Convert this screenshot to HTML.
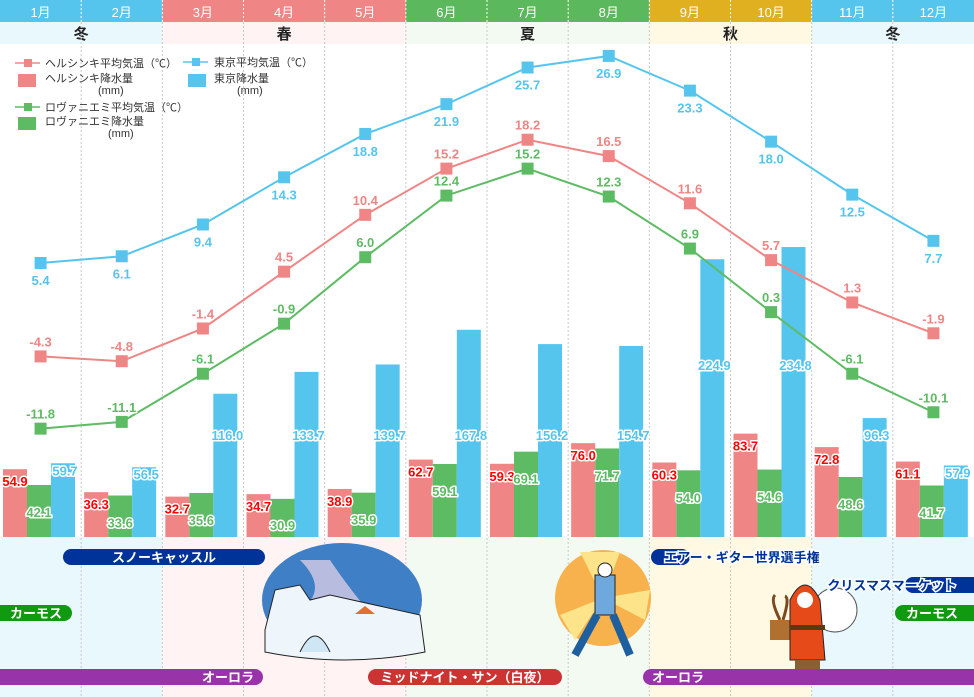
<!DOCTYPE html>
<html><head><meta charset="utf-8">
<style>
body{margin:0;background:#fff;}
svg{display:block;font-family:"Liberation Sans","Noto Sans CJK JP",sans-serif;}
.lbl{font-weight:bold;font-size:13px;paint-order:stroke;stroke:#fff;stroke-width:3px;stroke-linejoin:round;}
.pill{font-weight:bold;font-size:13px;fill:#fff;}
.leg{font-size:11px;fill:#333;}
</style></head><body>
<svg id="chart" width="974" height="697" viewBox="0 0 974 697">
<g id="bg"></g><g id="grid"></g><g id="bars"></g><g id="lines"></g><g id="labels"></g>
<g id="legend">
  <line x1="15" y1="63" x2="40" y2="63" stroke="#f08585" stroke-width="1.5"/><rect x="24" y="59" width="8" height="8" fill="#f08585"/>
  <text class="leg" x="45" y="67">ヘルシンキ平均気温（℃）</text>
  <rect x="18" y="74" width="18" height="13" fill="#f08585"/>
  <text class="leg" x="45" y="82">ヘルシンキ降水量</text><text class="leg" x="98" y="94">(mm)</text>
  <line x1="183" y1="62" x2="208" y2="62" stroke="#56c5ee" stroke-width="1.5"/><rect x="192" y="58" width="8" height="8" fill="#56c5ee"/>
  <text class="leg" x="214" y="66">東京平均気温（℃）</text>
  <rect x="188" y="74" width="18" height="13" fill="#56c5ee"/>
  <text class="leg" x="214" y="82">東京降水量</text><text class="leg" x="237" y="94">(mm)</text>
  <line x1="15" y1="107" x2="40" y2="107" stroke="#5dbb63" stroke-width="1.5"/><rect x="24" y="103" width="8" height="8" fill="#5dbb63"/>
  <text class="leg" x="45" y="111">ロヴァニエミ平均気温（℃）</text>
  <rect x="18" y="117" width="18" height="13" fill="#5dbb63"/>
  <text class="leg" x="45" y="125">ロヴァニエミ降水量</text><text class="leg" x="108" y="137">(mm)</text>
</g>
<g id="events"></g>
</svg>
<script>
const months=["1月","2月","3月","4月","5月","6月","7月","8月","9月","10月","11月","12月"];
const tokyoTemp=[5.4,6.1,9.4,14.3,18.8,21.9,25.7,26.9,23.3,18.0,12.5,7.7];
const helsinkiTemp=[-4.3,-4.8,-1.4,4.5,10.4,15.2,18.2,16.5,11.6,5.7,1.3,-1.9];
const rovaTemp=[-11.8,-11.1,-6.1,-0.9,6.0,12.4,15.2,12.3,6.9,0.3,-6.1,-10.1];
const helsinkiRain=[54.9,36.3,32.7,34.7,38.9,62.7,59.3,76.0,60.3,83.7,72.8,61.1];
const rovaRain=[42.1,33.6,35.6,30.9,35.9,59.1,69.1,71.7,54.0,54.6,48.6,41.7];
const tokyoRain=[59.7,56.5,116.0,133.7,139.7,167.8,156.2,154.7,224.9,234.8,96.3,57.9];
const seasons=[{n:"冬",s:0,e:2,c:"#56c5ee",t:"#e8f8fd"},{n:"春",s:2,e:5,c:"#f08585",t:"#fff3f3"},{n:"夏",s:5,e:8,c:"#5cb85c",t:"#f2faf2"},{n:"秋",s:8,e:10,c:"#e0b020",t:"#fff8e3"},{n:"冬",s:10,e:12,c:"#56c5ee",t:"#e8f8fd"}];
const NS="http://www.w3.org/2000/svg";
const mw=974/12;
function mx(i){return i*mw;}
function cx(i){return i*mw+mw/2;}
function yT(v){return 315-v*9.63;}
function yR(v){return 537-v*1.235;}
function el(p,tag,a,txt){const e=document.createElementNS(NS,tag);for(const k in a)e.setAttribute(k,a[k]);if(txt!=null)e.textContent=txt;document.getElementById(p).appendChild(e);return e;}
seasons.forEach((s,k)=>{
  let r=el("bg","rect",{x:mx(s.s),y:22,width:mx(s.e)-mx(s.s),height:22,fill:s.t});
  
  
  el("bg","rect",{x:mx(s.s),y:537,width:mx(s.e)-mx(s.s),height:160,fill:s.t});
  let t=el("bg","text",{x:(mx(s.s)+mx(s.e))/2,y:39,"text-anchor":"middle","font-size":"15","font-weight":"bold",fill:"#222"},s.n);
  
  
  for(let i=s.s;i<s.e;i++){
    let h=el("bg","rect",{x:mx(i),y:0,width:mw,height:22,fill:s.c});
    
    
    let mt=el("bg","text",{x:cx(i),y:17,"text-anchor":"middle","font-size":"13",fill:"#fff"},months[i]);
    
    
  }
});
for(let i=1;i<12;i++){
  el("grid","line",{x1:mx(i),y1:0,x2:mx(i),y2:22,stroke:"#fff","stroke-dasharray":"2,2"});
  el("grid","line",{x1:mx(i),y1:22,x2:mx(i),y2:697,stroke:"#c8c8c8","stroke-dasharray":"2,2"});
}
const series=[{d:helsinkiRain,c:"#f08585",o:3,lc:"#ff0000",name:"helsinki-rain"},{d:rovaRain,c:"#5dbb63",o:27,lc:"#5dbb63",name:"rovaniemi-rain"},{d:tokyoRain,c:"#56c5ee",o:51,lc:"#56c5ee",name:"tokyo-rain"}];
series.forEach((s,si)=>{
  s.d.forEach((v,i)=>{
    const top=yR(v);
    const b=el("bars","rect",{x:mx(i)+s.o,y:top,width:24,height:537-top,fill:s.c});
    
    
    let ly,lx;
    if(si==0){ly=Math.min(top+17,525);lx=mx(i)+s.o+12;}
    else if(si==1){ly=Math.min(top+32,530);lx=mx(i)+s.o+12;}
    else {ly=top>440?top+12:(top<300?370:440);lx=mx(i)+s.o+14;}
    const t=el("labels","text",{x:lx,y:ly,"text-anchor":"middle",class:"lbl",fill:s.lc},v.toFixed(1));
    
    
  });
});
const lines=[{d:tokyoTemp,c:"#56c5ee",off:22,name:"tokyo-temp"},{d:helsinkiTemp,c:"#f08585",off:-10,name:"helsinki-temp"},{d:rovaTemp,c:"#5dbb63",off:-10,name:"rovaniemi-temp"}];
lines.forEach(L=>{
  const pts=L.d.map((v,i)=>cx(i)+","+yT(v)).join(" ");
  const pl=el("lines","polyline",{points:pts,fill:"none",stroke:L.c,"stroke-width":"2"});
  
  
  L.d.forEach((v,i)=>{
    const m=el("lines","rect",{x:cx(i)-6,y:yT(v)-6,width:12,height:12,fill:L.c});
    
    
    const t=el("labels","text",{x:cx(i),y:yT(v)+L.off,"text-anchor":"middle",class:"lbl",fill:L.c},v.toFixed(1));
    
    
  });
});
const ev=[
 {t:"スノーキャッスル",x1:63,x2:265,y:549,c:"#003399",tx:164},
 {t:"カーモス",x1:-10,x2:72,y:605,c:"#109a10",tx:36},
 {t:"カーモス",x1:895,x2:984,y:605,c:"#109a10",tx:932},
 {t:"オーロラ",x1:-10,x2:263,y:669,c:"#9933aa",tx:228},
 {t:"ミッドナイト・サン（白夜）",x1:368,x2:562,y:669,c:"#cc3333",tx:465},
 {t:"オーロラ",x1:643,x2:984,y:669,c:"#9933aa",tx:678},
 {t:"エアー・ギター世界選手権",x1:651,x2:690,y:549,c:"#003399",tx:742,out:1},
 {t:"クリスマスマーケット",x1:905,x2:984,y:577,c:"#003399",tx:892,out:1}
];
ev.forEach(e=>{
  const r=el("events","rect",{x:e.x1,y:e.y,width:e.x2-e.x1,height:16,rx:8,fill:e.c});
  
  
  const a={x:e.tx,y:e.y+13,"text-anchor":"middle",class:"pill"};
  if(e.out){a.style="fill:"+e.c+";paint-order:stroke;stroke:#fff;stroke-width:3px";}
  const t=el("events","text",a,e.t);
  
  
});
const ill=document.getElementById("events");
ill.insertAdjacentHTML("afterbegin",`
<g>
<ellipse cx="342" cy="600" rx="80" ry="57" fill="#3f7fc6"/>
<path d="M300 560 Q330 590 300 610 Q350 590 355 620 L380 625 Q350 590 330 560 Z" fill="#b8bde0"/>
<path d="M265 630 L275 590 L300 585 L310 600 L330 595 L420 615 L425 652 Q345 668 265 652 Z" fill="#eef6fb" stroke="#222" stroke-width="1"/>
<path d="M300 652 Q315 620 330 652" fill="#cfe6f5" stroke="#222"/>
<polygon points="355,614 365,606 375,614" fill="#e07030"/></g>
<g>
<circle cx="603" cy="598" r="48" fill="#f7b24d"/>
<path d="M603 598 L580 552 L620 552 Z M603 598 L650 590 L645 620 Z M603 598 L560 615 L575 640 Z" fill="#fde48a"/>
<rect x="595" y="575" width="20" height="40" fill="#6fa8dc" stroke="#222"/>
<path d="M597 615 L575 655 M613 615 L630 655" stroke="#1e5fa0" stroke-width="8"/>
<circle cx="605" cy="570" r="7" fill="#fff" stroke="#222"/></g>
<g>
<circle cx="835" cy="610" r="22" fill="#fff" stroke="#555"/>
<path d="M780 620 Q770 600 775 595 M783 620 Q790 598 785 596" stroke="#7a4a20" stroke-width="3" fill="none"/>
<rect x="770" y="620" width="22" height="20" fill="#b07030"/>
<path d="M790 600 Q805 570 820 600 L825 660 L790 660 Z" fill="#e64a19" stroke="#222"/>
<rect x="790" y="625" width="35" height="5" fill="#5a3a10"/>
<circle cx="805" cy="600" r="8" fill="#fff"/>
<rect x="795" y="660" width="25" height="10" fill="#8a6030"/></g>`);
</script>
</body></html>
